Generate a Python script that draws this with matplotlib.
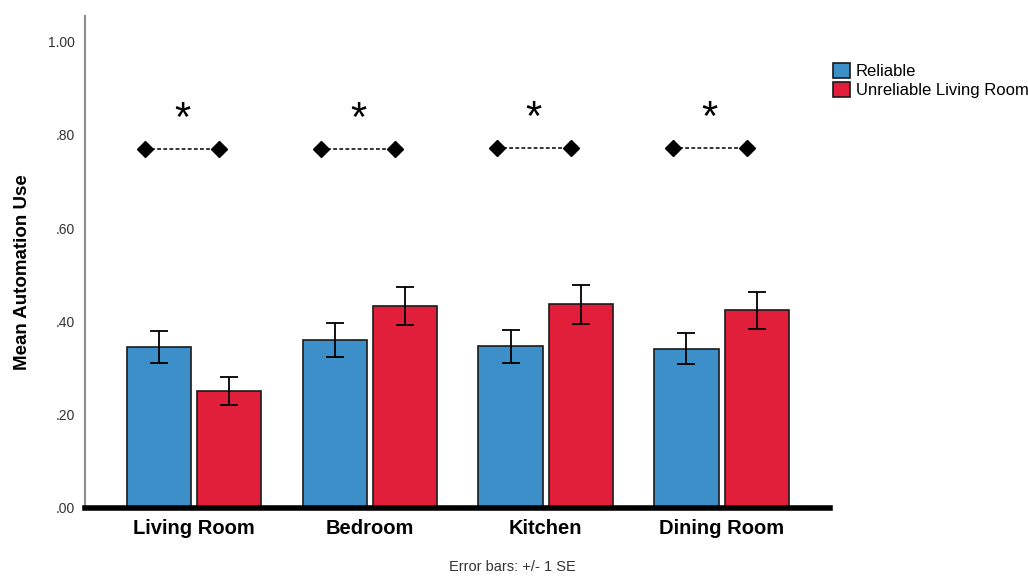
import numpy as np
import matplotlib.pyplot as plt

plt.rcParams['font.family'] = ['Liberation Sans', 'DejaVu Sans']

rooms = ['Living Room', 'Bedroom', 'Kitchen', 'Dining Room']
reliable_mean = [0.345, 0.360, 0.347, 0.342]
reliable_se = [0.035, 0.036, 0.035, 0.034]
unreliable_mean = [0.251, 0.433, 0.437, 0.424]
unreliable_se = [0.031, 0.041, 0.042, 0.040]
sig_level = [0.770, 0.770, 0.773, 0.773]
y_ticks = [0.0, 0.2, 0.4, 0.6, 0.8, 1.0]
y_tick_labels = ['.00', '.20', '.40', '.60', '.80', '1.00']

blue = '#3d8fca'
red = '#e21f3a'

fig = plt.figure(figsize=(10.28, 5.77), dpi=100)
ax = fig.add_axes([0.0827, 0.1196, 0.7243, 0.8525])

x = np.arange(len(rooms))
width = 0.365
offset = 0.2
err_kw = dict(ecolor='black', elinewidth=1.3, capsize=6.5, capthick=1.3)
ax.bar(x - offset, reliable_mean, width, yerr=reliable_se, color=blue,
       edgecolor='#1a1a1a', linewidth=1.2, label='Reliable', error_kw=err_kw, zorder=2)
ax.bar(x + offset, unreliable_mean, width, yerr=unreliable_se, color=red,
       edgecolor='#1a1a1a', linewidth=1.2, label='Unreliable Living Room', error_kw=err_kw, zorder=2)

# significance markers between the two conditions
for xi, lvl in zip(x, sig_level):
    x0, x1 = xi - 0.278, xi + 0.142
    ax.plot([x0, x1], [lvl, lvl], color='black', linestyle=(0, (2.5, 1.5)), linewidth=1.1,
            marker='D', markersize=8, zorder=3)
    ax.text((x0 + x1) / 2, lvl + 0.062, '*', ha='center', va='center', fontsize=30)

ax.set_xlim(-0.62, 3.614)
ax.set_ylim(0, 1.055)
ax.set_xticks(x)
ax.set_xticklabels(rooms, fontsize=14.5, fontweight='bold')
ax.set_yticks(y_ticks)
ax.set_yticklabels(y_tick_labels, fontsize=10, color='#333333')
ax.tick_params(axis='both', length=0)
ax.tick_params(axis='y', pad=7)
ax.tick_params(axis='x', pad=8)
ax.set_ylabel('Mean Automation Use', fontsize=13.5, fontweight='bold')
ax.yaxis.set_label_coords(-0.0725, 0.48)

for side in ['top', 'right']:
    ax.spines[side].set_visible(False)
ax.spines['left'].set_color('#8c8c8c')
ax.spines['left'].set_linewidth(1.5)
ax.spines['bottom'].set_color('black')
ax.spines['bottom'].set_linewidth(4)
ax.spines['bottom'].set_zorder(4)

ax.legend(loc='upper left', bbox_to_anchor=(1.005, 0.905), frameon=False, fontsize=12,
          handlelength=1.0, handleheight=1.0, handletextpad=0.35, labelspacing=0.2,
          borderaxespad=0, borderpad=0)

fig.text(0.498, 0.018, 'Error bars: +/- 1 SE', ha='center', va='center', fontsize=10.5,
         color='#333333')

fig.savefig('out.png', dpi=100)
